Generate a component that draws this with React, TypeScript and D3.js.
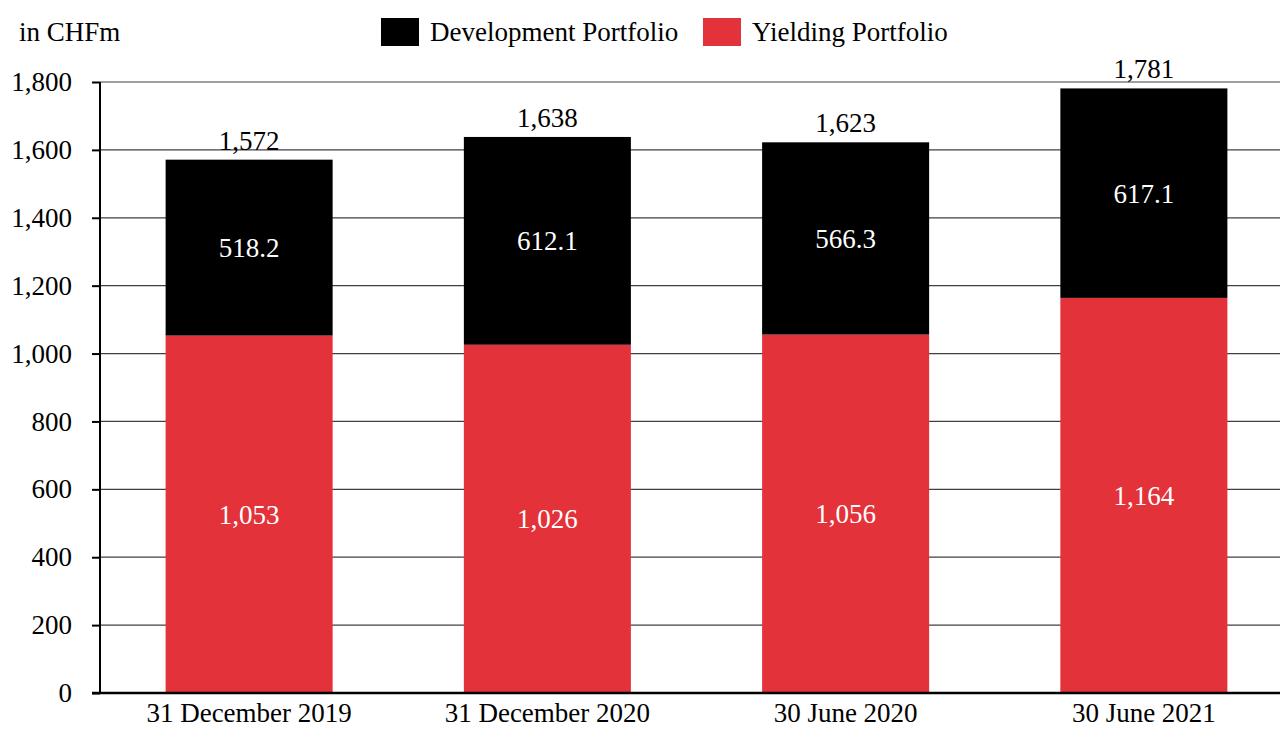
import React, { useEffect, useRef } from "react";
import * as d3 from "d3";

const categories = ["31 December 2019", "31 December 2020", "30 June 2020", "30 June 2021"];
const yielding = [1053, 1026, 1056, 1164];
const development = [518.2, 612.1, 566.3, 617.1];
const totals = ["1,572", "1,638", "1,623", "1,781"];
const yTicks = [0, 200, 400, 600, 800, 1000, 1200, 1400, 1600, 1800];

const RED = "#e3323a";
const FONT = "'Liberation Serif', 'Times New Roman', serif";
const FS = "27px";

export default function App() {
  const svgRef = useRef<SVGSVGElement>(null);

  useEffect(() => {
    const width = 1280;
    const height = 729;
    const svg = d3.select(svgRef.current);
    svg.selectAll("*").remove();
    svg.attr("width", width).attr("height", height).style("font-family", FONT);

    const x = d3.scaleBand().domain(categories).range([100, 1293]).paddingInner(0.44).paddingOuter(0.22);
    const y = d3.scaleLinear().domain([0, 1800]).range([693, 82]);

    // gridlines
    svg.append("g")
      .selectAll("line")
      .data(yTicks.filter((t) => t > 0))
      .enter()
      .append("line")
      .attr("x1", 100)
      .attr("x2", width)
      .attr("y1", (d) => y(d))
      .attr("y2", (d) => y(d))
      .attr("stroke", "#404040")
      .attr("stroke-width", 1.2);

    const rows = categories.map((c, i) => ({ cat: c, y: yielding[i], d: development[i], total: totals[i] }));

    const bars = svg.append("g").selectAll("g").data(rows).enter().append("g");

    bars.append("rect")
      .attr("x", (d) => x(d.cat)!)
      .attr("width", x.bandwidth())
      .attr("y", (d) => y(d.y))
      .attr("height", (d) => y(0) - y(d.y))
      .attr("fill", RED);

    bars.append("rect")
      .attr("x", (d) => x(d.cat)!)
      .attr("width", x.bandwidth())
      .attr("y", (d) => y(d.y + d.d))
      .attr("height", (d) => y(d.y) - y(d.y + d.d))
      .attr("fill", "#000");

    bars.append("text")
      .attr("x", (d) => x(d.cat)! + x.bandwidth() / 2)
      .attr("y", (d) => y(d.y / 2))
      .attr("dy", "0.35em")
      .attr("text-anchor", "middle")
      .attr("fill", "#fff")
      .style("font-size", FS)
      .text((d) => d3.format(",")(d.y));

    bars.append("text")
      .attr("x", (d) => x(d.cat)! + x.bandwidth() / 2)
      .attr("y", (d) => y(d.y + d.d / 2))
      .attr("dy", "0.35em")
      .attr("text-anchor", "middle")
      .attr("fill", "#fff")
      .style("font-size", FS)
      .text((d) => d.d.toFixed(1));

    bars.append("text")
      .attr("x", (d) => x(d.cat)! + x.bandwidth() / 2)
      .attr("y", (d) => y(d.y + d.d) - 10)
      .attr("text-anchor", "middle")
      .attr("fill", "#000")
      .style("font-size", FS)
      .text((d) => d.total);

    // y axis
    const yAxis = svg.append("g")
      .attr("transform", "translate(100,0)")
      .call(d3.axisLeft(y).tickValues(yTicks).tickFormat(d3.format(",")).tickSize(8).tickPadding(20));
    yAxis.select(".domain").attr("stroke", "#000").attr("stroke-width", 2).attr("d", `M0,${y(1800)}V${y(0)}`);
    yAxis.selectAll(".tick line").attr("stroke", "#000").attr("stroke-width", 2);
    yAxis.selectAll(".tick text").style("font-size", FS).style("font-family", FONT).attr("fill", "#000");

    // x axis
    const xAxis = svg.append("g")
      .attr("transform", `translate(0,${y(0)})`)
      .call(d3.axisBottom(x).tickSize(0).tickPadding(10));
    xAxis.select(".domain").attr("stroke", "#000").attr("stroke-width", 2.5).attr("d", `M92,0H${width}`);
    xAxis.selectAll(".tick text").style("font-size", FS).style("font-family", FONT).attr("fill", "#000");

    // unit label
    svg.append("text").attr("x", 19).attr("y", 41).style("font-size", FS).text("in CHFm");

    // legend
    const legend = [
      { label: "Development Portfolio", color: "#000", x: 381 },
      { label: "Yielding Portfolio", color: RED, x: 703 },
    ];
    const lg = svg.append("g").selectAll("g").data(legend).enter().append("g");
    lg.append("rect")
      .attr("x", (d) => d.x)
      .attr("y", 18)
      .attr("width", 38)
      .attr("height", 28)
      .attr("fill", (d) => d.color);
    lg.append("text")
      .attr("x", (d) => d.x + 49)
      .attr("y", 41)
      .style("font-size", FS)
      .text((d) => d.label);
  }, []);

  return (
    <div style={{ position: "absolute", left: 0, top: 0 }}>
      <svg ref={svgRef}></svg>
    </div>
  );
}
